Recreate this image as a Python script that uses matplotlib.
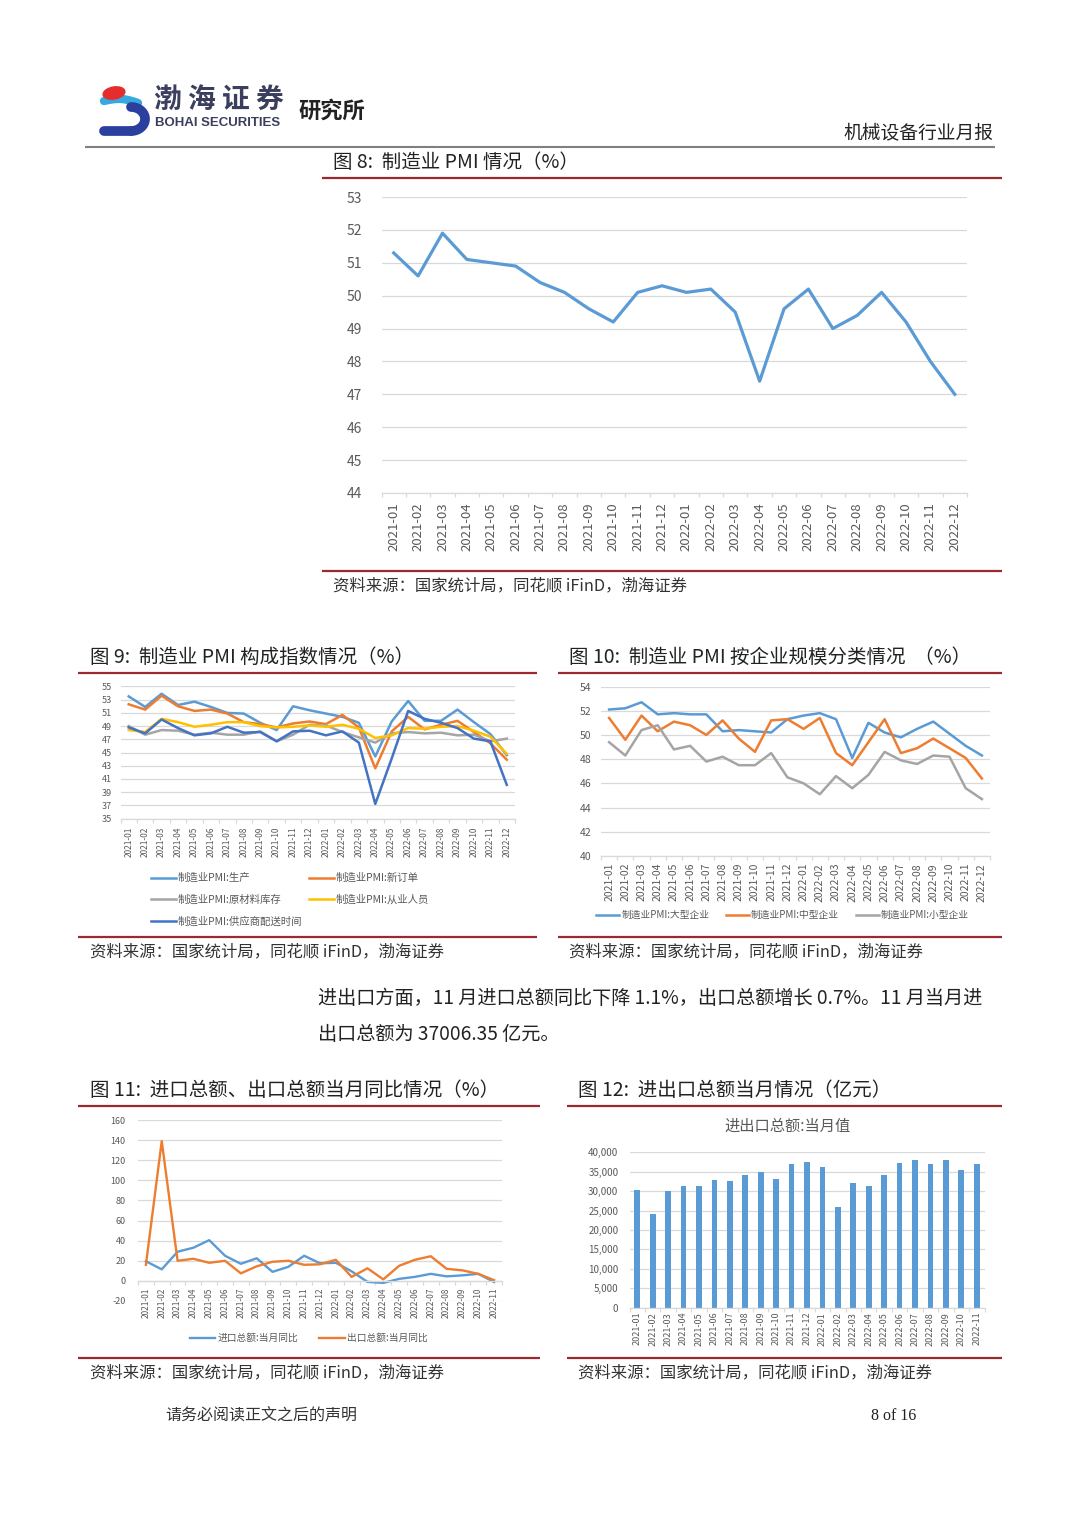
import matplotlib
matplotlib.use('Agg')
import matplotlib.pyplot as plt
from matplotlib.patches import Ellipse
from matplotlib.ticker import FixedLocator, FuncFormatter
import numpy as np

plt.rcParams['font.family'] = ['Noto Sans CJK SC', 'DejaVu Sans']
plt.rcParams['axes.unicode_minus'] = False

# ---------------- data ----------------
months24 = ['2021-01', '2021-02', '2021-03', '2021-04', '2021-05', '2021-06',
            '2021-07', '2021-08', '2021-09', '2021-10', '2021-11', '2021-12',
            '2022-01', '2022-02', '2022-03', '2022-04', '2022-05', '2022-06',
            '2022-07', '2022-08', '2022-09', '2022-10', '2022-11', '2022-12']
months23 = months24[:23]

pmi = [51.3, 50.6, 51.9, 51.1, 51.0, 50.9, 50.4, 50.1, 49.6, 49.2, 50.1, 50.3,
       50.1, 50.2, 49.5, 47.4, 49.6, 50.2, 49.0, 49.4, 50.1, 49.2, 48.0, 47.0]

pmi_production = [53.5, 51.9, 53.9, 52.2, 52.7, 51.9, 51.0, 50.9, 49.5, 48.4, 52.0, 51.4,
                  50.9, 50.4, 49.5, 44.4, 49.7, 52.8, 49.8, 49.8, 51.5, 49.6, 47.8, 44.6]
pmi_new_orders = [52.3, 51.5, 53.6, 52.0, 51.3, 51.5, 50.9, 49.6, 49.3, 48.8, 49.4, 49.7,
                  49.3, 50.7, 48.8, 42.6, 48.2, 50.4, 48.5, 49.2, 49.8, 48.1, 46.4, 43.9]
pmi_raw_inventory = [49.0, 47.7, 48.4, 48.3, 47.7, 48.0, 47.7, 47.7, 48.2, 46.7, 47.7, 49.2,
                     49.1, 48.1, 47.3, 46.5, 47.9, 48.1, 47.9, 48.0, 47.6, 47.7, 46.7, 47.1]
pmi_employees = [48.4, 48.1, 50.1, 49.6, 48.9, 49.2, 49.6, 49.6, 49.0, 48.8, 48.9, 49.1,
                 48.9, 49.2, 48.6, 47.2, 47.6, 48.7, 48.6, 48.9, 49.0, 48.3, 47.4, 44.8]
pmi_delivery = [48.8, 47.9, 50.0, 48.7, 47.6, 47.9, 48.9, 48.0, 48.1, 46.7, 48.2, 48.3,
                47.6, 48.2, 46.5, 37.2, 44.1, 51.3, 50.1, 49.5, 48.7, 47.1, 46.7, 40.1]

pmi_large = [52.1, 52.2, 52.7, 51.7, 51.8, 51.7, 51.7, 50.3, 50.4, 50.3, 50.2, 51.3,
             51.6, 51.8, 51.3, 48.1, 51.0, 50.2, 49.8, 50.5, 51.1, 50.1, 49.1, 48.3]
pmi_medium = [51.4, 49.6, 51.6, 50.3, 51.1, 50.8, 50.0, 51.2, 49.7, 48.6, 51.2, 51.3,
              50.5, 51.4, 48.5, 47.5, 49.4, 51.3, 48.5, 48.9, 49.7, 48.9, 48.1, 46.4]
pmi_small = [49.4, 48.3, 50.4, 50.8, 48.8, 49.1, 47.8, 48.2, 47.5, 47.5, 48.5, 46.5,
             46.0, 45.1, 46.6, 45.6, 46.7, 48.6, 47.9, 47.6, 48.3, 48.2, 45.6, 44.7]

import_yoy = [19.5, 11.5, 29.0, 33.0, 40.5, 25.0, 17.0, 22.5, 9.0, 14.0, 25.0, 17.5,
              18.0, 9.5, -1.0, -2.0, 2.0, 4.0, 7.0, 4.5, 5.5, 7.0, -1.1]
export_yoy = [16.0, 139.0, 20.0, 22.0, 18.0, 20.0, 7.5, 14.5, 19.0, 20.0, 16.0, 16.5,
              21.0, 4.0, 12.5, 1.5, 15.0, 21.0, 24.5, 12.0, 10.5, 7.0, 0.7]

trade_total = [30300, 24100, 30100, 31400, 31400, 32800, 32600, 34200, 35000, 33200, 37000, 37400,
               36300, 25900, 32100, 31400, 34200, 37300, 37900, 37000, 37900, 35500, 37006]

# y tick values of each chart
yt8 = list(range(44, 54, 1))
yt9 = list(range(35, 56, 2))
yt10 = list(range(40, 55, 2))
yt11 = list(range(-20, 161, 20))
yt12 = list(range(0, 40001, 5000))

# ---------------- layout helpers ----------------
W, H = 1080, 1527
fig = plt.figure(figsize=(W / 100, H / 100), dpi=100)
fig.patch.set_facecolor('white')

bg = fig.add_axes([0, 0, 1, 1], zorder=0)
bg.set_xlim(0, W)
bg.set_ylim(H, 0)
bg.axis('off')

RED = '#9b2a2e'
TXT = '#595959'
GRID = '#d9d9d9'
C_BLUE = '#5b9bd5'
C_ORANGE = '#ed7d31'
C_GRAY = '#a5a5a5'
C_YELLOW = '#ffc000'
C_DBLUE = '#4472c4'


def axpx(x0, y0, x1, y1):
    return fig.add_axes([x0 / W, 1 - y1 / H, (x1 - x0) / W, (y1 - y0) / H], zorder=2)


def hl(x0, x1, y, color=RED, lw=1.6):
    bg.plot([x0, x1], [y, y], color=color, lw=lw, solid_capstyle='butt')


def style(ax, cats, yticks, ysize, xsize, ypad, xpad, fmt=None):
    n = len(cats)
    ax.set_xlim(-0.5, n - 0.5)
    ax.set_ylim(yticks[0], yticks[-1])
    ax.yaxis.set_major_locator(FixedLocator(yticks))
    if fmt:
        ax.yaxis.set_major_formatter(FuncFormatter(fmt))
    ax.set_xticks(range(n))
    ax.set_xticklabels(cats, rotation=90)
    ax.set_xticks(np.arange(n + 1) - 0.5, minor=True)
    ax.grid(axis='y', color=GRID, lw=0.9)
    ax.set_axisbelow(True)
    for s in ['top', 'right', 'left']:
        ax.spines[s].set_visible(False)
    ax.spines['bottom'].set_color(GRID)
    ax.spines['bottom'].set_linewidth(0.9)
    ax.tick_params(axis='y', length=0, labelsize=ysize, labelcolor=TXT, pad=ypad)
    ax.tick_params(axis='x', which='major', length=0, labelsize=xsize, labelcolor=TXT, pad=xpad)
    ax.tick_params(axis='x', which='minor', length=3, color=GRID, width=0.9)
    ax.set_facecolor('none')


# ---------------- header ----------------
t = np.linspace(0, 1, 40)
bg.plot(104 + 34 * t, 101 - 3 * np.sin(np.pi * t) + 2 * t, color='#36a9e1', lw=6, solid_capstyle='round')
ang = np.linspace(-np.pi / 2, np.pi / 2, 40)
bg.plot(131 + 14 * np.cos(ang), 119 + 12 * np.sin(ang), color='#2b3f9e', lw=7, solid_capstyle='round')
bg.plot(104 + 27 * t, 131 - 0 * t, color='#2b3f9e', lw=7, solid_capstyle='round')
bg.add_patch(Ellipse((114, 93), 22, 12, angle=-10, color='#e52d2d', zorder=3))

bg.text(154, 100, '渤 海 证 券', fontsize=20, fontweight='bold', color='#3b3f5e', va='center', ha='left')
bg.text(155, 123, 'BOHAI SECURITIES', fontsize=9.5, fontweight='bold', color='#3b3f5e',
        va='center', ha='left', family=['Liberation Sans', 'DejaVu Sans'])
bg.text(298, 111, '研究所', fontsize=16, fontweight='bold', color='#222222', va='center', ha='left')
bg.text(993, 133, '机械设备行业月报', fontsize=13.5, color='#222222', va='center', ha='right')
hl(85, 995, 147, color='#7f7f7f', lw=1.5)

# ---------------- titles / rules / sources ----------------
TITLE_FS = 14
SRC_FS = 11.8
src = '资料来源：国家统计局，同花顺 iFinD，渤海证券'

bg.text(333, 162, '图 8:  制造业 PMI 情况（%）', fontsize=TITLE_FS, color='#222222', va='center')
hl(322, 1002, 178)
hl(322, 1002, 571)
bg.text(333, 586, src, fontsize=SRC_FS, color='#333333', va='center')

bg.text(90, 657, '图 9:  制造业 PMI 构成指数情况（%）', fontsize=TITLE_FS, color='#222222', va='center')
hl(78, 537, 673)
hl(78, 537, 937)
bg.text(90, 952, src, fontsize=SRC_FS, color='#333333', va='center')

bg.text(569, 657, '图 10:  制造业 PMI 按企业规模分类情况  （%）', fontsize=TITLE_FS, color='#222222', va='center')
hl(558, 1002, 673)
hl(558, 1002, 937)
bg.text(569, 952, src, fontsize=SRC_FS, color='#333333', va='center')

bg.text(318, 998, '进出口方面，11 月进口总额同比下降 1.1%，出口总额增长 0.7%。11 月当月进',
        fontsize=13.8, color='#222222', va='center')
bg.text(318, 1034, '出口总额为 37006.35 亿元。', fontsize=13.8, color='#222222', va='center')

bg.text(90, 1091, '图 11:  进口总额、出口总额当月同比情况（%）', fontsize=TITLE_FS, color='#222222', va='center')
hl(78, 540, 1106)
hl(78, 540, 1358)
bg.text(90, 1373, src, fontsize=SRC_FS, color='#333333', va='center')

bg.text(578, 1091, '图 12:  进出口总额当月情况（亿元）', fontsize=TITLE_FS, color='#222222', va='center')
hl(567, 1002, 1106)
hl(567, 1002, 1358)
bg.text(578, 1373, src, fontsize=SRC_FS, color='#333333', va='center')

# footer
bg.text(165, 1416, '请务必阅读正文之后的声明', fontsize=11.5, color='#333333', va='center')
bg.text(916, 1416, '8 of 16', fontsize=11.5, color='#222222', va='center', ha='right',
        family=['Liberation Serif', 'DejaVu Serif'])

# ---------------- Fig 8 ----------------
ax8 = axpx(381.5, 197, 967, 493)
x24 = np.arange(len(months24))
ax8.plot(x24, pmi, color=C_BLUE, lw=2.3)
style(ax8, months24, yt8, 10, 9.5, 14, 7)

# ---------------- Fig 9 ----------------
ax9 = axpx(120.5, 686.5, 515, 818.5)
l_prod, = ax9.plot(x24, pmi_production, color=C_BLUE, lw=1.8)
l_new, = ax9.plot(x24, pmi_new_orders, color=C_ORANGE, lw=1.8)
l_raw, = ax9.plot(x24, pmi_raw_inventory, color=C_GRAY, lw=1.8)
l_emp, = ax9.plot(x24, pmi_employees, color=C_YELLOW, lw=1.8)
l_del, = ax9.plot(x24, pmi_delivery, color=C_DBLUE, lw=1.8)
style(ax9, months24, yt9, 6.5, 6, 6, 6)
ax9.legend([l_prod, l_raw, l_del, l_new, l_emp],
           ['制造业PMI:生产', '制造业PMI:原材料库存', '制造业PMI:供应商配送时间',
            '制造业PMI:新订单', '制造业PMI:从业人员'],
           ncol=2, loc='upper left', bbox_to_anchor=(151 / W, 1 - 873 / H),
           bbox_transform=fig.transFigure, frameon=False, fontsize=7.5,
           handlelength=2.4, handletextpad=0.15, columnspacing=0.7,
           labelspacing=1.1, borderpad=0, borderaxespad=0, labelcolor=TXT)

# ---------------- Fig 10 ----------------
ax10 = axpx(601, 686.5, 990, 856)
l_lg, = ax10.plot(x24, pmi_large, color=C_BLUE, lw=1.8)
l_md, = ax10.plot(x24, pmi_medium, color=C_ORANGE, lw=1.8)
l_sm, = ax10.plot(x24, pmi_small, color=C_GRAY, lw=1.8)
style(ax10, months24, yt10, 7.5, 7.5, 7, 5)
ax10.legend([l_lg, l_md, l_sm], ['制造业PMI:大型企业', '制造业PMI:中型企业', '制造业PMI:小型企业'],
            ncol=3, loc='center left', bbox_to_anchor=(596 / W, 1 - 915 / H),
            bbox_transform=fig.transFigure, frameon=False, fontsize=7,
            handlelength=2.4, handletextpad=0.2, columnspacing=1.7,
            borderpad=0, borderaxespad=0, labelcolor=TXT)

# ---------------- Fig 11 ----------------
ax11 = axpx(138, 1120, 502, 1301)
ax11.spines['bottom'].set_position(('data', 0))
x23 = np.arange(len(months23))
l_im, = ax11.plot(x23, import_yoy, color=C_BLUE, lw=1.7)
l_ex, = ax11.plot(x23, export_yoy, color=C_ORANGE, lw=1.7)
style(ax11, months23, yt11, 6.5, 6, 9, 5)
ax11.legend([l_im, l_ex], ['进口总额:当月同比', '出口总额:当月同比'],
            ncol=2, loc='center left', bbox_to_anchor=(190 / W, 1 - 1338 / H),
            bbox_transform=fig.transFigure, frameon=False, fontsize=7,
            handlelength=2.6, handletextpad=0.2, columnspacing=2.2,
            borderpad=0, borderaxespad=0, labelcolor=TXT)

# ---------------- Fig 12 ----------------
ax12 = axpx(629.5, 1152.3, 984.5, 1307.7)
ax12.bar(x23, trade_total, width=0.37, color=C_BLUE)
style(ax12, months23, yt12, 7, 6.5, 8, 3, fmt=lambda v, p: f'{v:,.0f}')
bg.text(788, 1126, '进出口总额:当月值', fontsize=11, color=TXT, va='center', ha='center')

fig.savefig('out.png', dpi=100, facecolor='white')
